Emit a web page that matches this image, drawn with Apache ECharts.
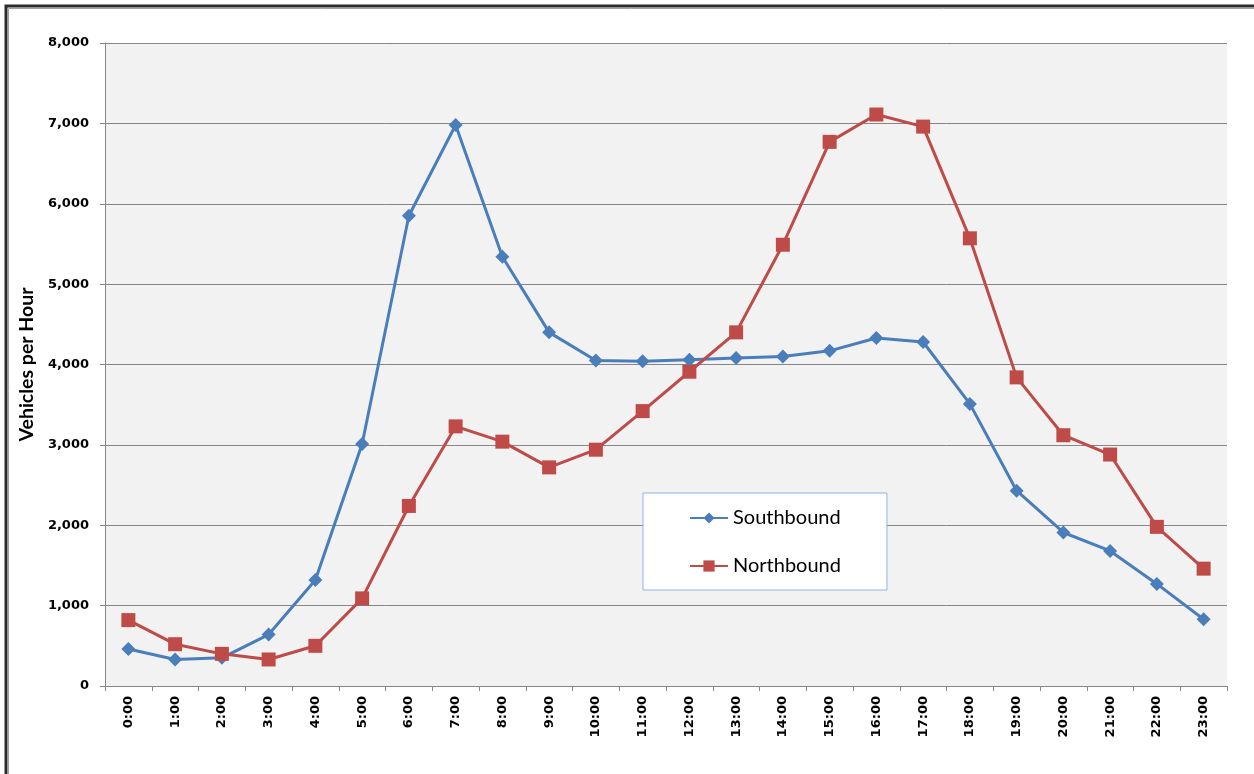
<!DOCTYPE html>
<html>
<head>
<meta charset="utf-8">
<title>Vehicles per Hour</title>
<script src="https://cdn.jsdelivr.net/npm/echarts@6/dist/echarts.min.js"></script>
<style>
html, body { margin:0; padding:0; background:#fff; }
#main { width:1254px; height:774px; }
</style>
</head>
<body>
<div id="main"></div>
<script type="text/javascript">
// hourly counts
var hours = ['0:00','1:00','2:00','3:00','4:00','5:00','6:00','7:00','8:00','9:00','10:00','11:00',
    '12:00','13:00','14:00','15:00','16:00','17:00','18:00','19:00','20:00','21:00','22:00','23:00'];
var southbound = [460, 330, 350, 640, 1320, 3010, 5850, 6980, 5340, 4400, 4050, 4040,
    4060, 4080, 4100, 4170, 4330, 4280, 3510, 2430, 1910, 1680, 1270, 830];
var northbound = [820, 520, 400, 330, 500, 1090, 2240, 3230, 3040, 2720, 2940, 3420,
    3910, 4400, 5490, 6770, 7110, 6960, 5570, 3840, 3120, 2880, 1980, 1460];

var colors = ['#4a7ebb', '#be4b48'];
var tickFont = 'DejaVu Sans';

var myChart = echarts.init(document.getElementById('main'));
var option = {
    color: colors,
    animation: false,
    graphic: [{
        type: 'rect',
        shape: { x: 6, y: 6, width: 1400, height: 1000 },
        style: { fill: 'none', stroke: '#2b2b2b', lineWidth: 3 },
        z: 100
    }, {
        type: 'rect',
        shape: { x: 8.5, y: 8.5, width: 1400, height: 1000 },
        style: { fill: 'none', stroke: '#a0a0a0', lineWidth: 1 },
        z: 100
    }],
    grid: {
        left: 105,
        right: 27,
        top: 43,
        bottom: 88,
        show: true,
        backgroundColor: '#f2f2f2',
        borderWidth: 0
    },
    legend: {
        data: ['Southbound', 'Northbound'],
        orient: 'vertical',
        left: 643,
        top: 493,
        padding: [15, 46, 14, 46],
        itemGap: 28,
        itemWidth: 38,
        itemHeight: 14,
        backgroundColor: '#ffffff',
        borderColor: '#8eb4e3',
        borderWidth: 1,
        textStyle: { fontFamily: 'Lato', fontSize: 20, color: '#000' }
    },
    xAxis: {
        type: 'category',
        data: hours,
        boundaryGap: true,
        axisLine: { lineStyle: { color: '#868686', width: 1 } },
        axisTick: { show: true, length: 5, lineStyle: { color: '#868686' } },
        axisLabel: {
            rotate: 90,
            interval: 0,
            margin: 10,
            color: '#000',
            fontFamily: tickFont,
            fontWeight: 'bold',
            fontSize: 13
        },
        splitLine: { show: false }
    },
    yAxis: {
        type: 'value',
        min: 0,
        max: 8000,
        interval: 1000,
        name: 'Vehicles per Hour',
        nameLocation: 'middle',
        nameGap: 65,
        nameTextStyle: { fontFamily: 'Lato', fontWeight: 'bold', fontSize: 19.5, color: '#000' },
        axisLine: { show: true, lineStyle: { color: '#868686', width: 1 } },
        axisTick: { show: true, length: 5, lineStyle: { color: '#868686' } },
        axisLabel: {
            margin: 16,
            color: '#000',
            fontFamily: tickFont,
            fontWeight: 'bold',
            fontSize: 13,
            formatter: function (v) { return v.toLocaleString('en-US'); }
        },
        splitLine: { lineStyle: { color: '#868686', width: 1 } }
    },
    series: [{
        name: 'Southbound',
        type: 'line',
        data: southbound,
        symbol: 'diamond',
        symbolSize: 14,
        lineStyle: { width: 3, color: colors[0] },
        itemStyle: { color: colors[0] }
    }, {
        name: 'Northbound',
        type: 'line',
        data: northbound,
        symbol: 'rect',
        symbolSize: 14,
        lineStyle: { width: 3, color: colors[1] },
        itemStyle: { color: colors[1] }
    }]
};
myChart.setOption(option);
</script>
</body>
</html>
